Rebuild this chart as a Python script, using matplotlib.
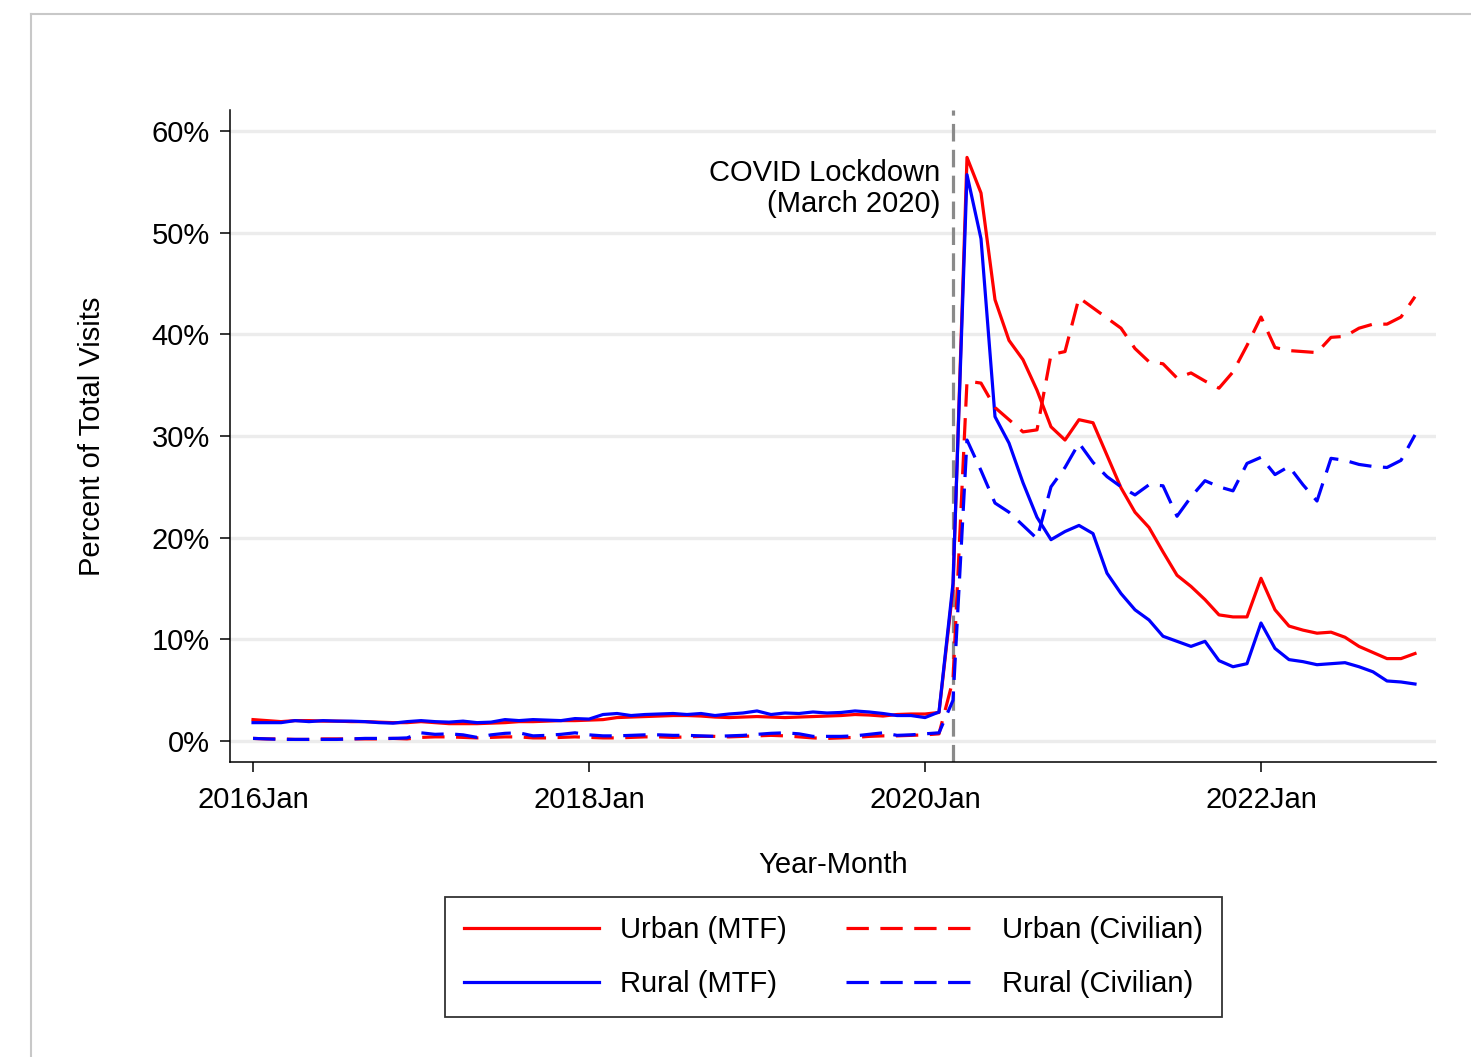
import numpy as np
import matplotlib
matplotlib.use('Agg')
import matplotlib.pyplot as plt
from matplotlib.lines import Line2D

plt.rcParams['font.family'] = ['Liberation Sans', 'DejaVu Sans']

# monthly series, 2016Jan .. 2022Dec (percent of total visits)
urban_mtf = [2.1, 2.0, 1.9, 2.0, 2.0, 1.95, 1.95, 1.9, 1.9, 1.85, 1.8, 1.8,
             1.9, 1.8, 1.7, 1.7, 1.7, 1.75, 1.8, 1.9, 1.9, 1.95, 2.0, 2.0,
             2.05, 2.1, 2.3, 2.35, 2.4, 2.45, 2.5, 2.5, 2.45, 2.35, 2.3, 2.35,
             2.4, 2.35, 2.3, 2.35, 2.4, 2.45, 2.5, 2.6, 2.55, 2.45, 2.6, 2.65,
             2.65, 2.8, 15.0, 57.4, 53.9, 43.4, 39.4, 37.5, 34.5, 30.9, 29.6, 31.6,
             31.3, 28.1, 24.9, 22.5, 21.0, 18.6, 16.3, 15.2, 13.9, 12.4, 12.2, 12.2,
             16.0, 12.9, 11.3, 10.9, 10.6, 10.7, 10.2, 9.3, 8.7, 8.1, 8.1, 8.6]
rural_mtf = [1.8, 1.8, 1.8, 2.0, 1.9, 2.0, 1.95, 1.95, 1.9, 1.8, 1.75, 1.9,
             2.0, 1.9, 1.85, 1.95, 1.8, 1.85, 2.1, 2.0, 2.1, 2.05, 2.0, 2.2,
             2.15, 2.6, 2.7, 2.5, 2.6, 2.65, 2.7, 2.6, 2.7, 2.5, 2.65, 2.75,
             2.95, 2.6, 2.75, 2.7, 2.85, 2.75, 2.8, 2.95, 2.85, 2.7, 2.5, 2.5,
             2.3, 2.85, 15.5, 55.7, 49.4, 31.9, 29.3, 25.4, 22.0, 19.8, 20.6, 21.2,
             20.4, 16.5, 14.5, 12.9, 11.9, 10.3, 9.8, 9.3, 9.8, 7.9, 7.3, 7.6,
             11.6, 9.1, 8.0, 7.8, 7.5, 7.6, 7.7, 7.3, 6.8, 5.9, 5.8, 5.6]
urban_civ = [0.25, 0.2, 0.2, 0.15, 0.15, 0.2, 0.2, 0.2, 0.2, 0.2, 0.25, 0.2,
             0.35, 0.4, 0.4, 0.35, 0.3, 0.35, 0.4, 0.4, 0.3, 0.3, 0.35, 0.4,
             0.35, 0.3, 0.3, 0.35, 0.4, 0.4, 0.35, 0.4, 0.45, 0.45, 0.4, 0.45,
             0.5, 0.55, 0.5, 0.4, 0.3, 0.25, 0.3, 0.35, 0.45, 0.5, 0.5, 0.55,
             0.6, 0.7, 6.0, 35.4, 35.2, 32.8, 31.6, 30.4, 30.6, 38.0, 38.3, 43.6,
             42.6, 41.6, 40.6, 38.6, 37.3, 37.1, 35.7, 36.2, 35.4, 34.7, 36.3, 38.9,
             41.7, 38.7, 38.4, 38.3, 38.2, 39.7, 39.8, 40.6, 41.0, 41.0, 41.7, 43.7]
rural_civ = [0.25, 0.2, 0.15, 0.15, 0.15, 0.15, 0.15, 0.2, 0.25, 0.25, 0.25, 0.3,
             0.8, 0.65, 0.7, 0.6, 0.35, 0.6, 0.75, 0.8, 0.5, 0.55, 0.65, 0.8,
             0.6, 0.5, 0.5, 0.55, 0.6, 0.6, 0.55, 0.55, 0.5, 0.45, 0.5, 0.55,
             0.65, 0.75, 0.8, 0.7, 0.45, 0.45, 0.45, 0.5, 0.65, 0.8, 0.55, 0.6,
             0.7, 0.8, 4.0, 29.6, 26.6, 23.4, 22.5, 21.2, 19.9, 25.0, 26.9, 29.3,
             27.4, 26.0, 25.0, 24.2, 25.2, 25.1, 22.1, 24.0, 25.6, 25.0, 24.6, 27.3,
             27.9, 26.2, 27.0, 25.2, 23.6, 27.8, 27.6, 27.2, 27.0, 26.9, 27.6, 30.1]

xtick_pos = [0, 24, 48, 72]
xtick_labels = ['2016Jan', '2018Jan', '2020Jan', '2022Jan']
ytick_vals = [0, 10, 20, 30, 40, 50, 60]
lockdown = 50  # March 2020

months = np.arange(len(urban_mtf))
fs = 21

fig = plt.figure(figsize=(14.71, 10.57), dpi=100)
ax = fig.add_axes([0.1564, 0.2791, 0.8198, 0.6168])

for y in ytick_vals:
    ax.axhline(y, color='#ececec', lw=2.4, zorder=0)

lw = 2.3
dash = (7, 3.6)
ax.plot(months, urban_mtf, color='red', lw=lw, label='Urban (MTF)')
ax.plot(months, rural_mtf, color='blue', lw=lw, label='Rural (MTF)')
ax.plot(months, urban_civ, color='red', lw=lw, dashes=dash, label='Urban (Civilian)')
ax.plot(months, rural_civ, color='blue', lw=lw, dashes=dash, label='Rural (Civilian)')

ax.axvline(lockdown, color='#8a8a8a', lw=2.3, dashes=(5.5, 2.6), zorder=1)
ax.text(49.1, 57.2, 'COVID Lockdown\n(March 2020)', ha='right', va='top',
        fontsize=fs, linespacing=1.1)

ax.set_xlim(-1.64, 84.5)
ax.set_ylim(-2.07, 62.06)
ax.set_xticks(xtick_pos)
ax.set_xticklabels(xtick_labels)
ax.set_yticks(ytick_vals)
ax.set_yticklabels([f'{v}%' for v in ytick_vals])
ax.tick_params(labelsize=fs, length=7.5, width=1.1)
ax.tick_params(axis='y', pad=7)
ax.tick_params(axis='x', pad=10)

for s in ['top', 'right']:
    ax.spines[s].set_visible(False)
for s in ['left', 'bottom']:
    ax.spines[s].set_linewidth(1.1)

ax.set_ylabel('Percent of Total Visits', fontsize=fs)
ax.yaxis.set_label_coords(-0.103, 0.5)
ax.set_xlabel('Year-Month', fontsize=fs, va='top')
ax.xaxis.set_label_coords(0.5, -0.136)

handles, labels = ax.get_legend_handles_labels()
leg = fig.legend(handles, labels, ncol=2, loc='upper center',
                 bbox_to_anchor=(0.5666, 0.1514), borderaxespad=0,
                 fontsize=fs, frameon=True, fancybox=False,
                 handlelength=4.6, handletextpad=0.75, columnspacing=2.0,
                 labelspacing=0.9, borderpad=0.65)
leg.get_frame().set_edgecolor('black')
leg.get_frame().set_linewidth(1.3)

# window border
fig.add_artist(Line2D([31 / 1471, 1], [1 - 14 / 1057, 1 - 14 / 1057],
                      color='#c8c8c8', lw=1.5, transform=fig.transFigure))
fig.add_artist(Line2D([31 / 1471, 31 / 1471], [0, 1 - 14 / 1057],
                      color='#c8c8c8', lw=1.5, transform=fig.transFigure))

fig.savefig('out.png', dpi=100)
